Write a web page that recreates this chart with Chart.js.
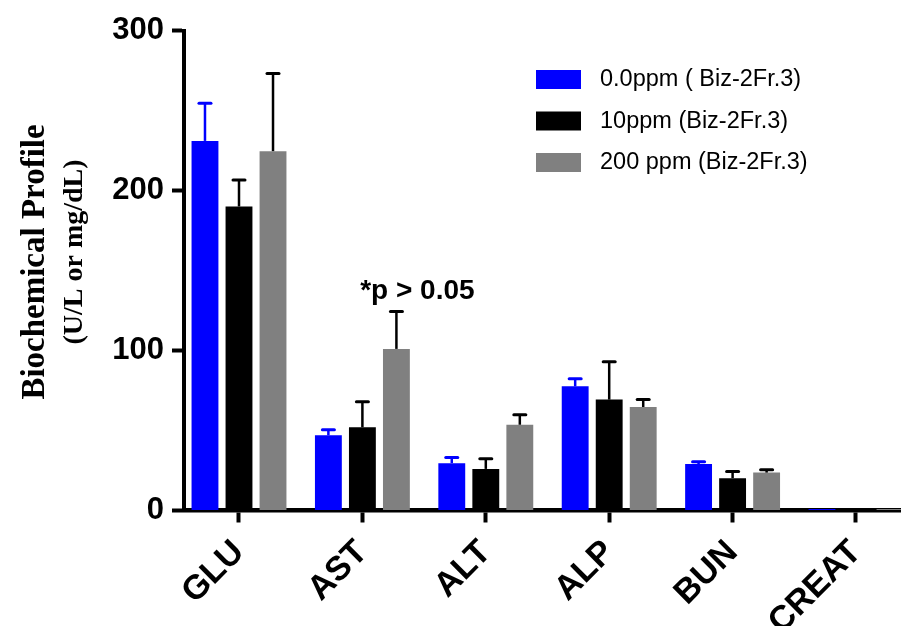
<!DOCTYPE html>
<html>
<head>
<meta charset="utf-8">
<script src="https://cdn.jsdelivr.net/npm/chart.js@4/dist/chart.umd.min.js"></script>
<style>
  html, body { margin: 0; padding: 0; background: #fff; overflow: hidden; }
  #wrap { width: 901px; height: 626px; }
</style>
</head>
<body>
<div id="wrap"><canvas id="chart"></canvas></div>
<script>
const categories = ["GLU", "AST", "ALT", "ALP", "BUN", "CREAT"];
const seriesLabels = ["0.0ppm ( Biz-2Fr.3)", "10ppm (Biz-2Fr.3)", "200 ppm (Biz-2Fr.3)"];
const seriesColors = ["#0000ff", "#000000", "#808080"];
const errorColors = ["#0000ff", "#000000", "#000000"];

const ppm0 = [231, 47, 29.6, 77.6, 29, 0.9];
const ppm10 = [190, 52, 26, 69.3, 20.2, 0.8];
const ppm200 = [224.6, 101, 53.6, 64.7, 23.7, 0.9];

const ppm0Err = [23.5, 3.5, 3.5, 4.7, 1.4, 0];
const ppm10Err = [16.5, 16, 6.3, 23.6, 4.1, 0];
const ppm200Err = [48.5, 23.3, 6.2, 4.6, 1.7, 0];

const yTicks = [0, 100, 200, 300];
const yTitle = ["Biochemical Profile", "(U/L or mg/dL)"];
const noteText = "*p > 0.05";

const seriesValues = [ppm0, ppm10, ppm200];
const seriesErrors = [ppm0Err, ppm10Err, ppm200Err];

// error bars, upper side only, with caps
const errorBars = {
  id: 'errorBars',
  afterDatasetsDraw(chart) {
    const ctx = chart.ctx;
    const y = chart.scales.y;
    ctx.save();
    chart.data.datasets.forEach((ds, i) => {
      const meta = chart.getDatasetMeta(i);
      meta.data.forEach((bar, j) => {
        const e = seriesErrors[i][j];
        if (!e) return;
        const top = y.getPixelForValue(seriesValues[i][j] + e);
        ctx.strokeStyle = errorColors[i];
        ctx.lineCap = 'butt';
        ctx.lineWidth = 2.5;
        ctx.beginPath();
        ctx.moveTo(bar.x, bar.y);
        ctx.lineTo(bar.x, top);
        ctx.stroke();
        ctx.lineCap = 'round';
        ctx.lineWidth = 3;
        ctx.beginPath();
        ctx.moveTo(bar.x - 6, top);
        ctx.lineTo(bar.x + 6, top);
        ctx.stroke();
      });
    });
    ctx.restore();
  }
};

// y title, legend and the note
const extras = {
  id: 'extras',
  afterDraw(chart) {
    const ctx = chart.ctx;
    ctx.save();
    ctx.fillStyle = '#000';
    ctx.textAlign = 'center';
    ctx.textBaseline = 'alphabetic';
    ctx.save();
    ctx.translate(44, 262);
    ctx.rotate(-Math.PI / 2);
    ctx.font = 'bold 33px "Liberation Serif"';
    ctx.fillText(yTitle[0], 0, 0);
    ctx.restore();
    ctx.save();
    ctx.translate(82, 252);
    ctx.rotate(-Math.PI / 2);
    ctx.font = 'bold 28px "Liberation Serif"';
    ctx.fillText(yTitle[1], 0, 0);
    ctx.restore();

    // note above AST
    const nx = chart.scales.x.getPixelForValue(1) + 55;
    const ny = chart.scales.y.getPixelForValue(132);
    ctx.font = 'bold 28px "Liberation Sans"';
    ctx.fillText(noteText, nx, ny);

    // legend
    ctx.textAlign = 'left';
    ctx.textBaseline = 'middle';
    ctx.font = '23.5px "Liberation Sans"';
    seriesLabels.forEach((label, i) => {
      const top = 70 + i * 41.5;
      ctx.fillStyle = seriesColors[i];
      ctx.fillRect(536, top, 45, 19);
      ctx.fillStyle = '#000';
      ctx.fillText(label, 600, top + 10);
    });
    ctx.restore();
  }
};

const datasets = seriesValues.map((vals, i) => ({
  label: seriesLabels[i],
  data: vals.map((v, k) => ({ x: k, y: v })),
  backgroundColor: seriesColors[i],
  borderWidth: 0,
  categoryPercentage: 0.827,
  barPercentage: 0.79
}));

new Chart(document.getElementById('chart'), {
  type: 'bar',
  data: { datasets: datasets },
  options: {
    responsive: true,
    maintainAspectRatio: false,
    animation: false,
    layout: { padding: { top: 30.5, left: 0, right: 0, bottom: 0 } },
    plugins: {
      legend: { display: false },
      tooltip: { enabled: false }
    },
    scales: {
      x: {
        type: 'linear',
        min: -0.4457,
        max: 5.3647,
        offset: false,
        afterBuildTicks(scale) {
          scale.ticks = categories.map((c, i) => ({ value: i }));
        },
        afterFit(scale) { scale.height = 115.5; },
        ticks: {
          autoSkip: false,
          maxRotation: 45,
          minRotation: 45,
          padding: 10,
          color: '#000',
          font: { family: '"Liberation Sans"', size: 34, weight: 'bold' },
          callback: (v) => categories[v]
        },
        grid: {
          display: true,
          offset: false,
          drawOnChartArea: false,
          drawTicks: true,
          tickLength: 12,
          tickWidth: 4,
          tickColor: '#000'
        },
        border: { display: true, color: '#000', width: 4.5 }
      },
      y: {
        min: 0,
        max: 300,
        afterBuildTicks(scale) {
          scale.ticks = yTicks.map(v => ({ value: v }));
        },
        afterFit(scale) { scale.width = 184; },
        ticks: {
          padding: 8,
          color: '#000',
          font: { family: '"Liberation Sans"', size: 31, weight: 'bold' }
        },
        grid: {
          display: true,
          drawOnChartArea: false,
          drawTicks: true,
          tickLength: 12,
          tickWidth: 4,
          tickColor: '#000'
        },
        border: { display: true, color: '#000', width: 4 }
      }
    }
  },
  plugins: [errorBars, extras]
});
</script>
</body>
</html>
